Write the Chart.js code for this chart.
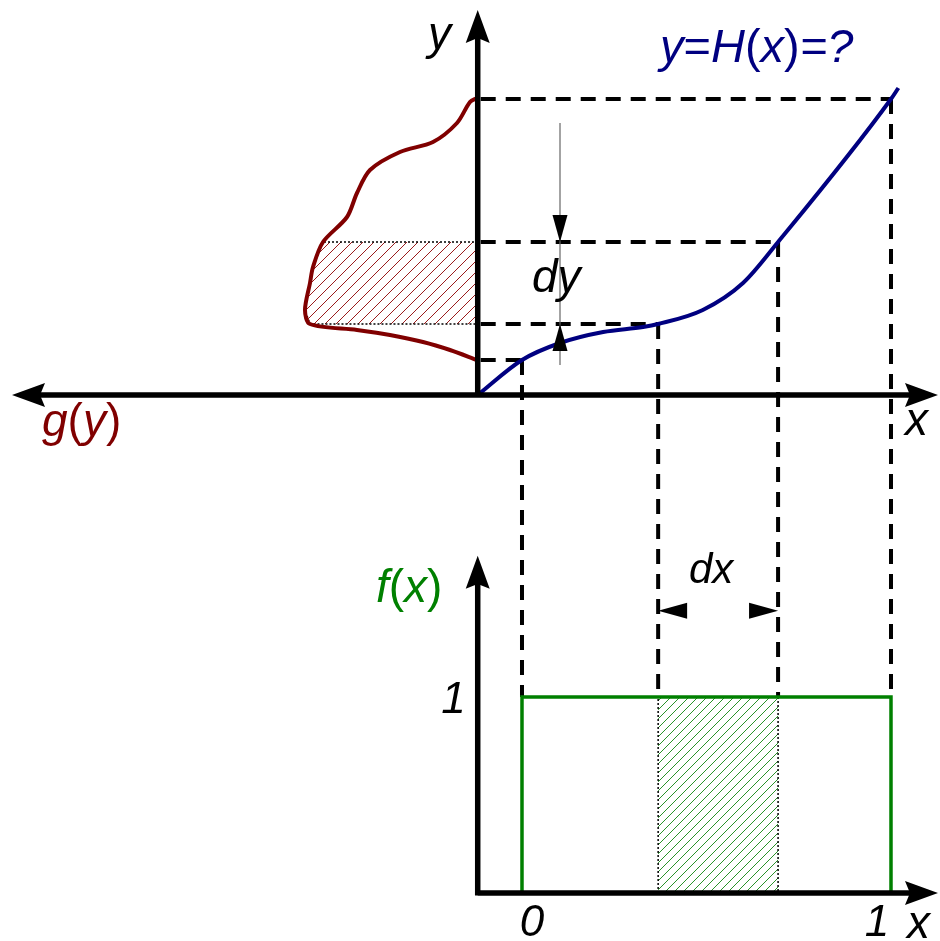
<!DOCTYPE html>
<html>
<head>
<meta charset="utf-8">
<script src="https://cdn.jsdelivr.net/npm/chart.js@4"></script>
<style>html,body{margin:0;background:#fff}</style>
</head>
<body>
<canvas id="c" width="940" height="941"></canvas>
<script>
// H(x) curve (top panel, x in units of the bottom axis)
const hX = [-0.12, 0, 0.103, 0.22, 0.328, 0.369, 0.49, 0.599, 0.694, 1.0, 1.02];
const hY = [0, 0.35, 0.52, 0.63, 0.68, 0.71, 0.85, 1.12, 1.53, 2.96, 3.07];

// g(y) density, drawn to the left of the y axis
const gG = [0.01, 0.08, 0.21, 0.45, 0.78, 1.08, 1.21, 1.31, 1.55, 1.65, 1.68, 1.73, 1.68, 1.21, 0.88, 0.55, 0.28, 0.01];
const gY = [2.97, 2.93, 2.72, 2.53, 2.43, 2.25, 2.02, 1.78, 1.53, 1.28, 1.12, 0.85, 0.71, 0.65, 0.60, 0.53, 0.45, 0.35];

// f(x) uniform density
const fX = [0, 0, 1, 1];
const fY = [0, 1, 1, 0];

// points marked with dashed lines: x = 0, x, x+dx, 1
const keyX = [0, 0.369, 0.694, 1];
const keyY = [0.35, 0.71, 1.53, 2.96];

// tick labels of the bottom panel
const xTickValues = [0, 1];
const xTickLabels = ['0', '1'];
const fTickValues = [1];
const fTickLabels = ['1'];

const originX = -0.12;   // where the y axes stand

// hatch pattern
function hatch(color, size) {
    const c = document.createElement('canvas');
    c.width = c.height = size;
    const g = c.getContext('2d');
    g.strokeStyle = color;
    g.lineWidth = 1;
    g.beginPath();
    g.moveTo(0, size); g.lineTo(size, 0);
    g.moveTo(-1, 1); g.lineTo(1, -1);
    g.moveTo(size - 1, size + 1); g.lineTo(size + 1, size - 1);
    g.stroke();
    return g.createPattern(c, 'repeat');
}

function arrow(ctx, tx, ty, dx, dy, len, hw, notch) {
    const bx = tx - dx * len, by = ty - dy * len;
    const px = -dy, py = dx;
    ctx.beginPath();
    ctx.moveTo(tx, ty);
    ctx.lineTo(bx + px * hw, by + py * hw);
    ctx.lineTo(tx - dx * len * notch, ty - dy * len * notch);
    ctx.lineTo(bx - px * hw, by - py * hw);
    ctx.closePath();
    ctx.fill();
}

// text with italic letters and upright brackets / signs
function rich(ctx, x, y, parts, size, color) {
    ctx.fillStyle = color;
    ctx.textBaseline = 'alphabetic';
    ctx.textAlign = 'left';
    for (const [t, it] of parts) {
        ctx.font = (it ? 'italic ' : '') + size + 'px "Liberation Sans", Arial, sans-serif';
        ctx.fillText(t, x, y);
        x += ctx.measureText(t).width;
    }
}

// band of g(y) between y and y+dy
const bandG = [0], bandY = [keyY[2]];
gY.forEach((v, i) => {
    if (v >= keyY[1] && v <= keyY[2]) { bandG.push(gG[i]); bandY.push(v); }
});
bandG.push(0); bandY.push(keyY[1]);

const diagram = {
    id: 'diagram',
    beforeDatasetsDraw(chart) {
        const {ctx, scales: {x, y, yf}} = chart;
        const ox = x.getPixelForValue(originX);
        ctx.save();
        ctx.strokeStyle = '#000';
        ctx.lineWidth = 4;
        ctx.setLineDash([15, 10]);
        keyX.forEach((kx, i) => {
            const px = x.getPixelForValue(kx), py = y.getPixelForValue(keyY[i]);
            ctx.beginPath();
            ctx.moveTo(ox + 3, py); ctx.lineTo(px, py);
            ctx.stroke();
            ctx.beginPath();
            ctx.moveTo(px, py); ctx.lineTo(px, yf.getPixelForValue(1));
            ctx.stroke();
        });
        ctx.restore();
    },
    afterDatasetsDraw(chart) {
        const {ctx, chartArea: area, scales: {x, y, yf}} = chart;
        const ox = x.getPixelForValue(originX);
        const y0 = y.getPixelForValue(0);
        const f0 = yf.getPixelForValue(0);
        ctx.save();
        ctx.fillStyle = '#000';
        ctx.strokeStyle = '#000';
        ctx.lineWidth = 5.5;

        // top panel axes
        const lTip = area.left + 12, rTip = area.right - 2, tTip = area.top + 10;
        ctx.beginPath();
        ctx.moveTo(lTip + 28, y0); ctx.lineTo(rTip - 28, y0);
        ctx.moveTo(ox, y0 + 2.5); ctx.lineTo(ox, tTip + 28);
        ctx.stroke();
        arrow(ctx, lTip, y0, -1, 0, 33, 12, 0.85);
        arrow(ctx, rTip, y0, 1, 0, 33, 12, 0.85);
        arrow(ctx, ox, tTip, 0, -1, 33, 12, 0.85);

        // bottom panel axes
        const fTip = yf.getPixelForValue(1.72);
        ctx.beginPath();
        ctx.moveTo(ox, f0); ctx.lineTo(rTip - 28, f0);
        ctx.moveTo(ox, f0 + 2.5); ctx.lineTo(ox, fTip + 28);
        ctx.stroke();
        arrow(ctx, rTip, f0, 1, 0, 33, 12, 0.85);
        arrow(ctx, ox, fTip, 0, -1, 33, 12, 0.85);

        // dy arrow
        const ax = x.getPixelForValue(0.103);
        ctx.strokeStyle = '#666';
        ctx.lineWidth = 1.2;
        ctx.beginPath();
        ctx.moveTo(ax, y.getPixelForValue(2.72));
        ctx.lineTo(ax, y.getPixelForValue(0.30));
        ctx.stroke();
        arrow(ctx, ax, y.getPixelForValue(keyY[2]), 0, 1, 27, 7.5, 1);
        arrow(ctx, ax, y.getPixelForValue(keyY[1]), 0, -1, 27, 7.5, 1);

        // dx arrows
        const dyPx = yf.getPixelForValue(1.44);
        arrow(ctx, x.getPixelForValue(keyX[1]), dyPx, -1, 0, 29, 8, 1);
        arrow(ctx, x.getPixelForValue(keyX[2]), dyPx, 1, 0, 29, 8, 1);

        // labels
        rich(ctx, 428, 49, [['y', 1]], 46, '#000');
        rich(ctx, 905, 435, [['x', 1]], 46, '#000');
        rich(ctx, 660, 62, [['y', 1], ['=', 0], ['H', 1], ['(', 0], ['x', 1], [')', 0], ['=?', 1]], 47, '#000080');
        rich(ctx, 42, 436, [['g', 1], ['(', 0], ['y', 1], [')', 0]], 46, '#800000');
        rich(ctx, 376, 602, [['f', 1], ['(', 0], ['x', 1], [')', 0]], 46, '#008000');
        rich(ctx, 532, 292, [['dy', 1]], 46, '#000');
        rich(ctx, 689, 583, [['dx', 1]], 42, '#000');

        ctx.font = 'italic 44px "Liberation Sans", Arial, sans-serif';
        ctx.fillStyle = '#000';
        ctx.textAlign = 'center';
        xTickValues.forEach((v, i) => {
            ctx.fillText(xTickLabels[i], x.getPixelForValue(v) + 10 - 24 * v, f0 + 43);
        });
        ctx.textAlign = 'right';
        fTickValues.forEach((v, i) => {
            ctx.fillText(fTickLabels[i], ox - 12, yf.getPixelForValue(v) + 16);
        });
        rich(ctx, 907, 938, [['x', 1]], 46, '#000');
        ctx.restore();
    }
};

const ctx = document.getElementById('c').getContext('2d');

new Chart(ctx, {
    type: 'line',
    data: {
        datasets: [
            {
                // y = H(x)
                data: hX.map((v, i) => ({x: v, y: hY[i]})),
                borderColor: '#000080',
                borderWidth: 4,
                cubicInterpolationMode: 'monotone',
                xAxisID: 'x', yAxisID: 'y'
            },
            {
                // g(y)
                data: gG.map((v, i) => ({x: v, y: gY[i]})),
                borderColor: '#800000',
                borderWidth: 4,
                tension: 0.3,
                xAxisID: 'xg', yAxisID: 'y'
            },
            {
                // f(x)
                data: fX.map((v, i) => ({x: v, y: fY[i]})),
                borderColor: '#008000',
                borderWidth: 3.5,
                xAxisID: 'x', yAxisID: 'yf'
            },
            {
                // shaded g(y) dy
                data: bandG.map((v, i) => ({x: v, y: bandY[i]})),
                borderColor: '#000',
                borderWidth: 1.5,
                borderDash: [2, 2],
                backgroundColor: hatch('#9b1c1c', 11),
                fill: 'shape',
                xAxisID: 'xg', yAxisID: 'y'
            },
            {
                // shaded f(x) dx
                data: [{x: keyX[1], y: 0}, {x: keyX[1], y: 1}, {x: keyX[2], y: 1}, {x: keyX[2], y: 0}],
                borderColor: '#000',
                borderWidth: 1.5,
                borderDash: [2, 2],
                backgroundColor: hatch('#2a922a', 9),
                fill: 'shape',
                xAxisID: 'x', yAxisID: 'yf'
            }
        ]
    },
    options: {
        responsive: false,
        animation: false,
        events: [],
        layout: { padding: 0 },
        elements: { point: { radius: 0 }, line: { tension: 0 } },
        plugins: { legend: { display: false }, tooltip: { enabled: false } },
        scales: {
            x: { type: 'linear', display: false, min: -1.4146, max: 1.1328 },
            xg: { type: 'linear', display: false, reverse: true, min: -4.62, max: 4.78 },
            y: { type: 'linear', display: false, min: -5.46, max: 3.95 },
            yf: { type: 'linear', display: false, min: -0.245, max: 4.556 }
        }
    },
    plugins: [diagram]
});
</script>
</body>
</html>
